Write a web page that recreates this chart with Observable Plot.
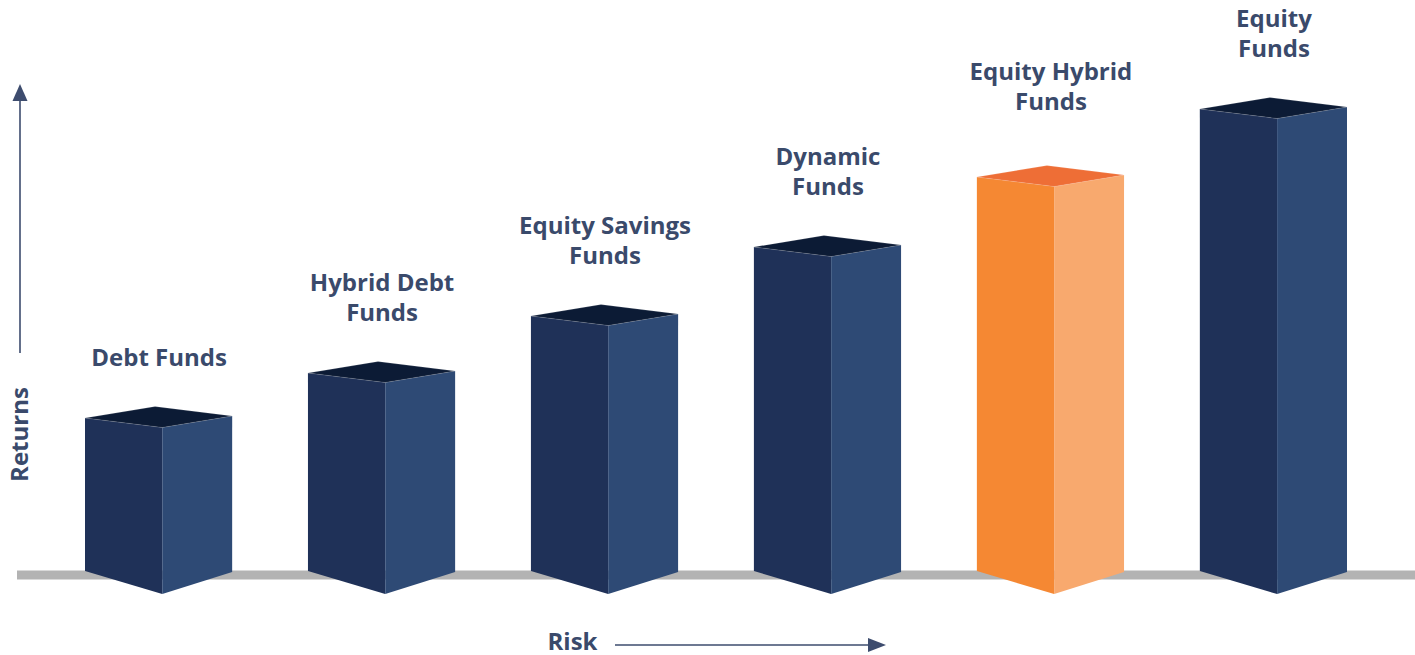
<!DOCTYPE html>
<html>
<head>
<meta charset="utf-8">
<script src="https://cdn.jsdelivr.net/npm/d3@7"></script>
<script src="https://cdn.jsdelivr.net/npm/@observablehq/plot@0.6"></script>
<style>
  html, body { margin: 0; padding: 0; background: #ffffff; }
  #chart svg { display: block; }
</style>
</head>
<body>
<div id="chart"></div>
<script>
// ---- data ----
const categories = ["Debt Funds", "Hybrid Debt Funds", "Equity Savings Funds", "Dynamic Funds", "Equity Hybrid Funds", "Equity Funds"];
const labels = ["Debt Funds", "Hybrid Debt\nFunds", "Equity Savings\nFunds", "Dynamic\nFunds", "Equity Hybrid\nFunds", "Equity\nFunds"];
const returns = [30.6, 39.6, 51, 64.8, 78.8, 92.4];
const highlighted = "Equity Hybrid Funds";
const xTitle = "Risk";
const yTitle = "Returns";

const data = categories.map((c, i) => ({name: c, label: labels[i], value: returns[i]}));

// ---- styles ----
const navy = {left: "#1f3158", right: "#2e4a75", top: "#0c1b35"};
const orange = {left: "#f58833", right: "#f8a96e", top: "#ee6e36"};
const textColor = "#3a4a6b";
const arrowColor = "#3d4c6e";
const font = "Open Sans";

function prisms(index, scales) {
  const sx = scales.x, sy = scales.y;
  let bw = typeof sx.bandwidth === "function" ? sx.bandwidth() : sx.bandwidth;
  if (!(bw > 0)) bw = (sx(categories[1]) - sx(categories[0])) * 0.66;
  const g = d3.create("svg:g");
  const y0 = sy(0);
  data.forEach(d => {
    const pal = d.name === highlighted ? orange : navy;
    const xl = sx(d.name), xr = xl + bw;
    const xc = xl + bw * 0.525, xb = xl + bw * 0.476;
    const yt = sy(d.value);
    const poly = (pts, fill) => g.append("polygon")
      .attr("points", pts.map(p => p.join(",")).join(" "))
      .attr("fill", fill);
    poly([[xl, yt], [xc, yt + 9.5], [xc, y0 + 23], [xl, y0]], pal.left);
    poly([[xc, yt + 9.5], [xr, yt - 2], [xr, y0 + 1], [xc, y0 + 23]], pal.right);
    poly([[xl, yt], [xb, yt - 11.5], [xr, yt - 2], [xc, yt + 9.5]], pal.top)
      .attr("stroke", "#ffffff").attr("stroke-opacity", 0.25).attr("stroke-width", 0.6);
  });
  return g.node();
}

function arrows() {
  const g = d3.create("svg:g").attr("fill", arrowColor).attr("stroke", arrowColor);
  // vertical (Returns) arrow
  g.append("line").attr("x1", 20).attr("x2", 20).attr("y1", 353).attr("y2", 98).attr("stroke-width", 1.6);
  g.append("polygon").attr("points", "20,84 12.5,101 27.5,101").attr("stroke", "none");
  // horizontal (Risk) arrow
  g.append("line").attr("x1", 615).attr("x2", 870).attr("y1", 645).attr("y2", 645).attr("stroke-width", 1.6);
  g.append("polygon").attr("points", "886,645 868,638 868,652").attr("stroke", "none");
  return g.node();
}

const textOpts = {fontFamily: font, fontWeight: "bold", fontSize: 24, fill: textColor};

const plot = Plot.plot({
  width: 1415,
  height: 655,
  marginLeft: 17,
  marginRight: 0,
  marginTop: 0,
  marginBottom: 0,
  style: {background: "#ffffff", fontFamily: font},
  x: {type: "band", domain: categories, range: [85, 1347], paddingInner: 0.34, paddingOuter: 0, round: false, axis: null},
  y: {domain: [0, 100], range: [571, 71], axis: null},
  marks: [
    Plot.ruleY([0], {stroke: "#b3b3b3", strokeWidth: 9, dy: 3.5}),
    prisms,
    Plot.text(data.filter(d => d.name !== highlighted), {x: "name", y: "value", text: "label", lineAnchor: "bottom", lineHeight: 1.25, dy: -53, ...textOpts}),
    Plot.text(data.filter(d => d.name === highlighted), {x: "name", y: "value", text: "label", lineAnchor: "bottom", lineHeight: 1.25, dy: -68, ...textOpts}),
    arrows,
    Plot.text([yTitle], {frameAnchor: "left", textAnchor: "middle", dx: 3, dy: 106.5, rotate: -90, ...textOpts}),
    Plot.text([xTitle], {frameAnchor: "bottom-left", textAnchor: "middle", dx: 555, dy: -6, ...textOpts})
  ]
});
document.getElementById("chart").appendChild(plot);
</script>
</body>
</html>
